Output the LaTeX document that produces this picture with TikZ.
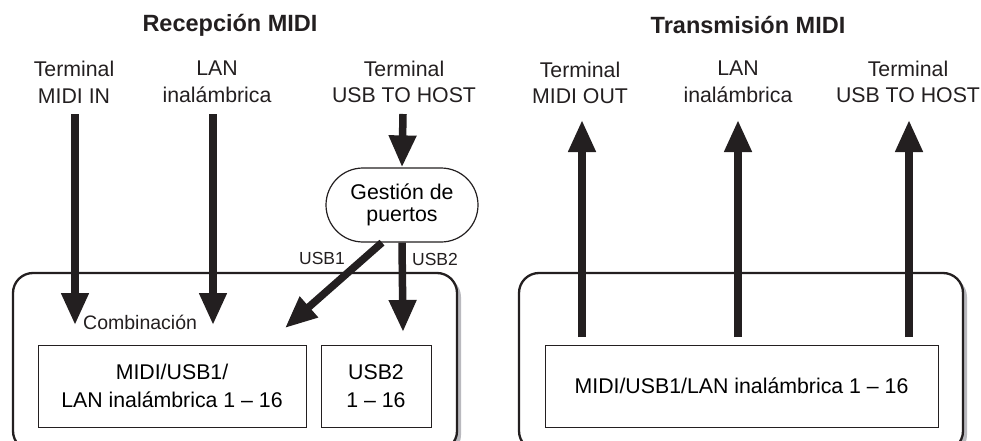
\documentclass[tikz,border=0pt]{standalone}
\usepackage{fontspec}
\setmainfont{Liberation Sans}
\usepackage{tikz}
\usetikzlibrary{shapes.misc, arrows.meta, positioning, calc}
\definecolor{tinta}{RGB}{35,31,32}
\definecolor{sombra}{RGB}{185,185,190}
\tikzset{
  titulo/.style={font=\fontsize{23.5}{27}\selectfont\bfseries, text=tinta, inner sep=0pt},
  etiqueta/.style={font=\fontsize{21.3}{26.7}\selectfont, align=center, text=tinta, inner sep=0pt},
  puerto/.style={font=\fontsize{17.5}{20}\selectfont, text=tinta, inner sep=0pt},
  canal/.style={rectangle, draw=tinta, line width=1pt, fill=white,
    font=\fontsize{21.3}{28}\selectfont, align=center, minimum height=82pt},
  gestion/.style={rounded rectangle, draw=tinta, line width=1.2pt, fill=white,
    minimum width=152pt, minimum height=74pt, align=center,
    font=\fontsize{21.3}{22}\selectfont, inner sep=0pt},
  marco/.style={draw=tinta, fill=white, line width=2.3pt, rounded corners=20pt},
  sombramarco/.style={fill=sombra, rounded corners=20pt},
  flecha/.style={-{Triangle[width=26pt, length=32pt]}, line width=7.5pt, color=tinta}
}

\begin{document}
\begin{tikzpicture}[x=1pt, y=-1pt]
  \useasboundingbox (0,0) rectangle (981,441);

  % Frames
  \fill[sombramarco] (17,277) rectangle (461,455);
  \draw[marco] (13,273) rectangle (457,451);
  \fill[sombramarco] (523,277) rectangle (967,455);
  \draw[marco] (519,273) rectangle (963,451);

  % Reception side
  \node[titulo] (tRec) at (230,25) {Recepción MIDI};
  \node[etiqueta] (lMidiIn) at (74,82) {Terminal\\MIDI IN};
  \node[etiqueta] (lLanIn) at (217,82) {LAN\\inalámbrica};
  \node[etiqueta] (lUsbIn) at (404,82) {Terminal\\USB TO HOST};
  \node[gestion] (gest) at (402,205) {Gestión de\\puertos};

  \node[canal, minimum width=268pt] (cMix) at (172,386) {MIDI/USB1/\\LAN inalámbrica 1 -- 16};
  \node[canal, minimum width=110pt] (cUsb2) at (376,386) {USB2\\1 -- 16};
  \node[etiqueta, anchor=west, font=\fontsize{19.5}{22}\selectfont] (comb) at (83,322) {Combinación};

  \coordinate (sMidiIn) at (75,114);
  \coordinate (eMidiIn) at (75,325);
  \coordinate (sLanIn) at (213,114);
  \coordinate (eLanIn) at (213,325);
  \coordinate (sUsbIn) at (403,114);
  \coordinate (eUsb1) at (285,328);
  \coordinate (eUsb2) at (403,332);

  \draw[flecha] (sMidiIn) -- (eMidiIn);
  \draw[flecha] (sLanIn) -- (eLanIn);
  \draw[flecha] (sUsbIn) -- (gest.north);
  \draw[flecha] ([xshift=-20pt]gest.south) -- (eUsb1);
  \draw[flecha] (gest.south) -- (eUsb2);
  \node[puerto] (pUsb1) at (322,258) {USB1};
  \node[puerto] (pUsb2) at (435,259) {USB2};

  % Transmission side
  \node[titulo] (tTra) at (748,25) {Transmisión MIDI};
  \node[etiqueta] (lMidiOut) at (580,83) {Terminal\\MIDI OUT};
  \node[etiqueta] (lLanOut) at (738,82) {LAN\\inalámbrica};
  \node[etiqueta] (lUsbOut) at (908,82) {Terminal\\USB TO HOST};

  \node[canal, minimum width=393pt] (cOut) at (741.5,386) {MIDI/USB1/LAN inalámbrica 1 -- 16};

  \coordinate (sMidiOut) at (582,337);
  \coordinate (eMidiOut) at (582,120);
  \coordinate (sLanOut) at (738,337);
  \coordinate (eLanOut) at (738,120);
  \coordinate (sUsbOut) at (909,337);
  \coordinate (eUsbOut) at (909,120);

  \draw[flecha] (sMidiOut) -- (eMidiOut);
  \draw[flecha] (sLanOut) -- (eLanOut);
  \draw[flecha] (sUsbOut) -- (eUsbOut);
\end{tikzpicture}
\end{document}
